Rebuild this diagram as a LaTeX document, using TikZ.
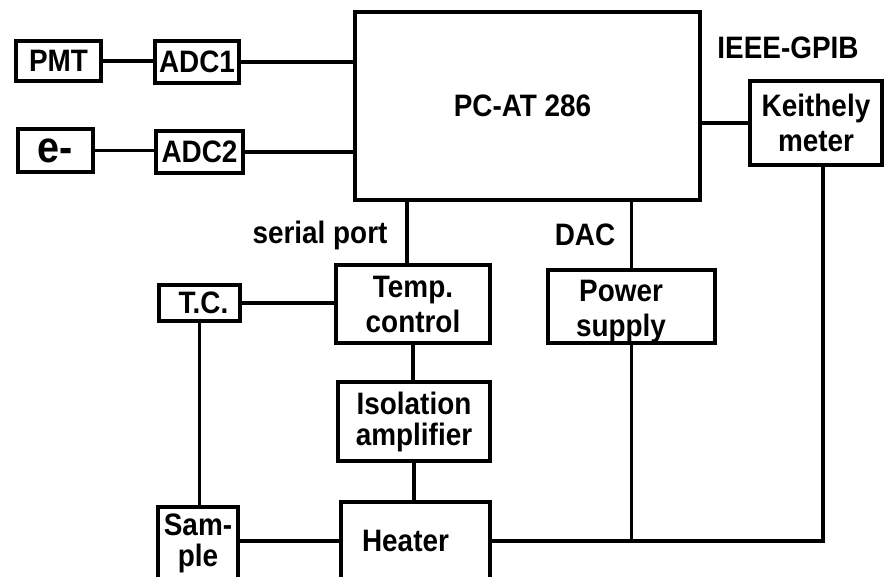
\documentclass[tikz,border=0pt]{standalone}
\usepackage{fontspec}
\setmainfont{Liberation Sans}[FakeStretch=0.9]
\begin{document}
\begin{tikzpicture}[x=1pt,y=-1pt,
  box/.style={draw, line width=4pt, inner sep=0pt, align=center,
    font=\fontsize{31}{35}\selectfont\bfseries},
  wire/.style={line width=3.5pt},
  lbl/.style={inner sep=0pt, align=center, font=\fontsize{31}{35}\selectfont\bfseries}]
\useasboundingbox (0,0) rectangle (888,576);
\clip (0,0) rectangle (888,576);
\fill[white] (0,0) rectangle (888,576);
% boxes
\node[box, minimum width=85, minimum height=40] (pmt) at (58.5,61) {PMT};
\node[box, minimum width=84, minimum height=42] (adc1) at (197,62) {ADC1};
\node[box, minimum width=75, minimum height=43, font=\fontsize{44}{44}\selectfont\bfseries] (elec) at (55.5,150.5) {e-};
\node[box, minimum width=87, minimum height=42] (adc2) at (199.5,152) {ADC2};
\node[box, minimum width=345, minimum height=188] (pc) at (527.5,106) {\hspace*{-10pt}PC-AT 286};
\node[box, minimum width=132, minimum height=84] (keith) at (816,123) {Keithely\\meter};
\node[box, minimum width=154, minimum height=78] (temp) at (413,304) {Temp.\\control};
\node[box, minimum width=81, minimum height=36] (tc) at (199.5,303) {\hspace*{8pt}T.C.};
\node[box, minimum width=152, minimum height=79, font=\fontsize{31}{31}\selectfont\bfseries] (iso) at (414,421.5) {Isolation\\amplifier};
\node[box, minimum width=149, minimum height=78] (heater) at (415.5,541) {\hspace*{-20pt}Heater};
\node[box, minimum width=80, minimum height=73, font=\fontsize{31}{31}\selectfont\bfseries] (sample) at (198,543.5) {Sam-\\ple};
\node[box, minimum width=167, minimum height=73] (power) at (631.5,306.5) {};
\node[lbl] (powertxt) at (621,312) {Power\\supply};
% labels
\node[lbl] (ieee) at (788,48) {IEEE-GPIB};
\node[lbl] (serial) at (320,235) {serial port};
\node[lbl] (dac) at (585,235) {DAC};
% junctions
\coordinate (jk) at ([xshift=7pt]keith.south |- heater.east);
\coordinate (jp) at (power.south |- heater.east);
% connectors
\draw[wire] (pmt.east) -- (adc1.west |- pmt.east);
\draw[wire] (adc1.east) -- (pc.west |- adc1.east);
\draw[wire] (elec.east) -- (adc2.west |- elec.east);
\draw[wire] (adc2.east) -- (pc.west |- adc2.east);
\draw[wire] (pc.east |- keith.west) -- (keith.west);
\draw[wire] ([xshift=-6pt]temp.north) -- ([xshift=-6pt]temp.north |- pc.south);
\draw[wire] (power.north) -- (power.north |- pc.south);
\draw[wire] (tc.east) -- (temp.west |- tc.east);
\draw[wire] (temp.south) -- (temp.south |- iso.north);
\draw[wire] (iso.south) -- (iso.south |- heater.north);
\draw[wire] (tc.south) -- (tc.south |- sample.north);
\draw[wire] (sample.east |- heater.west) -- (heater.west);
\draw[wire] (heater.east) -- (jk) -- ([xshift=7pt]keith.south);
\draw[wire] (power.south) -- (jp);
\end{tikzpicture}
\end{document}
